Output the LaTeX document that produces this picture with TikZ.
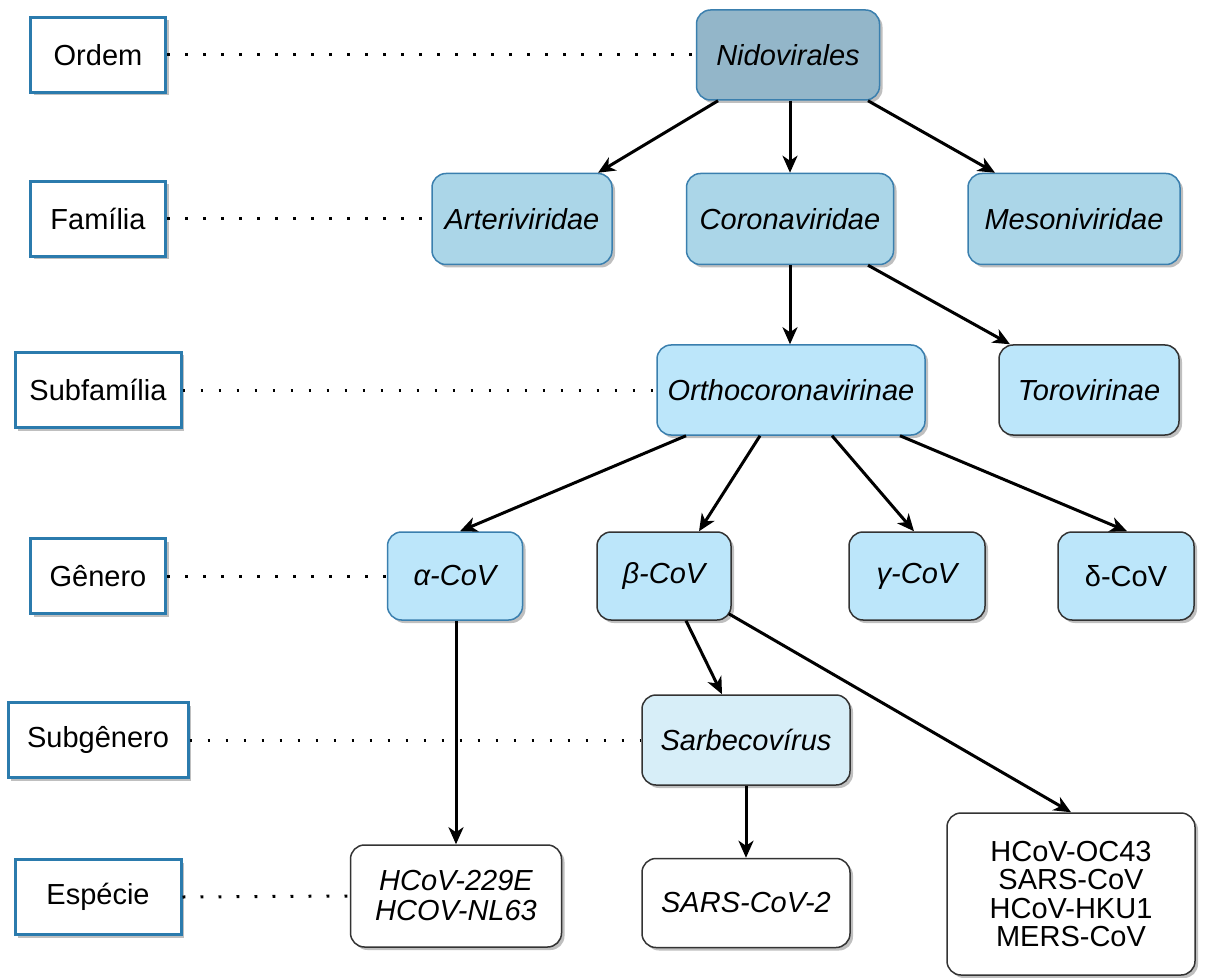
\documentclass[tikz,border=0pt]{standalone}
\usepackage{fontspec}
\setmainfont{Liberation Sans}
\usetikzlibrary{arrows.meta,shadows,calc}
\definecolor{bord}{HTML}{3A7FAE}
\definecolor{lblb}{HTML}{2B7BAD}
\definecolor{darkb}{HTML}{333333}
\definecolor{cNid}{HTML}{93B6C9}
\definecolor{cFam}{HTML}{ABD6E8}
\definecolor{cLight}{HTML}{BCE6FA}
\definecolor{cSar}{HTML}{D7EEF8}
\begin{document}
\begin{tikzpicture}[x=0.5pt,y=-0.5pt,
  font=\fontsize{14.5}{14.5}\selectfont,
  shadowed/.style={drop shadow={shadow xshift=1.5pt, shadow yshift=-1.5pt, fill=black, opacity=0.25}},
  box/.style={shadowed, rounded corners=7pt, draw=bord, line width=0.75pt, inner sep=0pt, align=center, font=\fontsize{14.5}{14.5}\selectfont\itshape},
  darkbox/.style={box, draw=darkb},
  lbl/.style={shadowed, draw=lblb, line width=1.5pt, fill=white, inner sep=0pt, minimum height=37.5pt},
  dots/.style={line width=1.5pt, dash pattern=on 1.4pt off 7.6pt, black},
  arr/.style={-{Stealth[length=8.5pt,width=7.5pt,inset=2.5pt]}, line width=1.5pt}
]
\useasboundingbox (0,0) rectangle (1209,978);

% rank labels
\node[lbl, minimum width=67.5pt] (lOrd) at (98,55) {Ordem};
\node[lbl, minimum width=67.5pt] (lFam) at (98,219) {Família};
\node[lbl, minimum width=83pt]   (lSubf) at (98,390) {Subfamília};
\node[lbl, minimum width=67.5pt] (lGen) at (98,576) {Gênero};
\node[lbl, minimum width=90pt]   (lSubg) at (98,740) {Subgênero};
\node[lbl, minimum width=83pt]   (lEsp) at (98,897) {Espécie};

% taxonomy nodes
\node[box, fill=cNid, minimum width=91.5pt, minimum height=45pt] (nid) at (788,55) {Nidovirales};
\node[box, fill=cFam, minimum width=90pt, minimum height=45.5pt] (art) at (522,219) {Arteriviridae};
\node[box, fill=cFam, minimum width=103.5pt, minimum height=45.5pt] (cor) at (790,219) {Coronaviridae};
\node[box, fill=cFam, minimum width=106pt, minimum height=45.5pt] (mes) at (1074,219) {Mesoniviridae};
\node[box, fill=cLight, minimum width=134pt, minimum height=45pt] (ort) at (791,390) {Orthocoronavirinae};
\node[darkbox, fill=cLight, minimum width=90pt, minimum height=45pt] (tor) at (1089,390) {Torovirinae};
\node[box, fill=cLight, minimum width=67.5pt, minimum height=44pt] (alp) at (455,576) {α-CoV};
\node[darkbox, fill=cLight, minimum width=67pt, minimum height=44pt] (bet) at (664,576) {β-CoV};
\node[darkbox, fill=cLight, minimum width=68pt, minimum height=44pt] (gam) at (917,576) {γ-CoV};
\node[darkbox, fill=cLight, minimum width=68pt, minimum height=44pt, font=\fontsize{14.5}{14.5}\selectfont] (del) at (1126,576) {δ-CoV};
\node[darkbox, fill=cSar, minimum width=104pt, minimum height=45pt] (sar) at (746,740) {Sarbecovírus};
\node[darkbox, fill=white, minimum width=105.5pt, minimum height=51pt, font=\fontsize{14.5}{15}\selectfont\itshape] (hco) at (456,896) {HCoV-229E\\HCOV-NL63};
\node[darkbox, fill=white, minimum width=104pt, minimum height=44.5pt] (sc2) at (746,903) {SARS-CoV-2};
\node[darkbox, fill=white, minimum width=124pt, minimum height=81pt, font=\fontsize{14.5}{14.3}\selectfont] (big) at (1071,894) {HCoV-OC43\\SARS-CoV\\HCoV-HKU1\\MERS-CoV};

% dotted rank links
\draw[dots] (lOrd.east) -- (nid.west);
\draw[dots] (lFam.east) -- (art.west);
\draw[dots] (lSubf.east) -- (ort.west);
\draw[dots] (lGen.east) -- (alp.west);
\draw[dots] (lSubg.east) -- (sar.west);
\draw[dots] (lEsp.east) -- (hco.west);

% arrows
\draw[arr] ($(nid.south)+(-70,0)$) -- ($(art.north)+(76,0)$);
\draw[arr] ($(nid.south)+(2,0)$) -- (cor.north);
\draw[arr] ($(nid.south)+(80,0)$) -- ($(mes.north)+(-79,0)$);
\draw[arr] (cor.south) -- ($(ort.north)+(-1,0)$);
\draw[arr] ($(cor.south)+(78,0)$) -- ($(tor.north)+(-79,0)$);
\draw[arr] ($(ort.south)+(-105,0)$) -- ($(alp.north)+(5,0)$);
\draw[arr] ($(ort.south)+(-31,0)$) -- ($(bet.north)+(35,0)$);
\draw[arr] ($(ort.south)+(41,0)$) -- ($(gam.north)+(-3,0)$);
\draw[arr] ($(ort.south)+(109,0)$) -- ($(del.north)+(1,0)$);
\draw[arr] ($(alp.south)+(1,0)$) -- (hco.north);
\draw[arr] ($(bet.south)+(22,0)$) -- ($(sar.north)+(-24,0)$);
\draw[arr] ($(bet.south east)+(-3,-7)$) -- (big.north);
\draw[arr] (sar.south) -- (sc2.north);
\end{tikzpicture}
\end{document}
